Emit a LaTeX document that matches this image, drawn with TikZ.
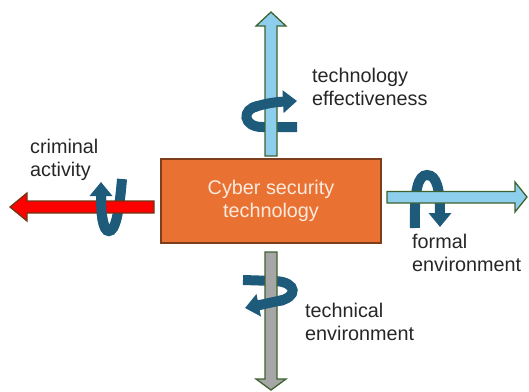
\documentclass[tikz,border=0pt]{standalone}
\usepackage{fontspec}
\setmainfont{Liberation Sans}
\usetikzlibrary{arrows.meta}
\definecolor{boxorange}{RGB}{233,113,50}
\definecolor{boxedge}{RGB}{125,62,30}
\definecolor{boxtext}{RGB}{252,234,222}
\definecolor{shaftblue}{RGB}{140,206,236}
\definecolor{shaftgray}{RGB}{166,166,166}
\definecolor{shaftedge}{RGB}{62,98,48}
\definecolor{redge}{RGB}{110,55,25}
\definecolor{curl}{RGB}{30,90,122}
\definecolor{lbltext}{RGB}{38,38,38}

\begin{document}
\begin{tikzpicture}[x=1pt,y=-1pt,
  lbl/.style = {anchor=base west, align=left, inner sep=0pt, text=lbltext, font=\fontsize{19.8}{23}\selectfont},
  shaft/.style = {draw=shaftedge, line width=1.3pt, line join=miter},
  twist/.style = {draw=curl, line width=10pt},
  twisthead/.style = {twist, -{Triangle[length=14pt,width=22pt]}},
]
\useasboundingbox (0,0) rectangle (529,391);
% curls, back parts
\draw[twist] (297,127) -- (262,127) .. controls (243,127) and (241,109) .. (258,106);
\draw[twist] (122,179) .. controls (119,215) and (115,231) .. (109,231) .. controls (103,231) and (101,215) .. (101,195);
\draw[twisthead] (415,228) .. controls (414,190) and (418,175) .. (427,175) .. controls (437,175) and (440,190) .. (440,227);
\draw[twist] (243,280) -- (275,281) .. controls (298,282) and (298,298) .. (278,301);
% block arrows
\draw[shaft, fill=shaftblue] (265,156) -- (265,26) -- (256,26) -- (271,12) -- (286,26) -- (277,26) -- (277,156) -- cycle;
\draw[shaft, fill=shaftgray] (265,252) -- (265,379) -- (256,379) -- (271,390) -- (286,379) -- (277,379) -- (277,252) -- cycle;
\draw[shaft, draw=redge, fill=red] (154,201) -- (27,201) -- (27,193) -- (10,207) -- (27,221) -- (27,213) -- (154,213) -- cycle;
\draw[shaft, fill=shaftblue] (387,191.5) -- (515,191.5) -- (515,182) -- (527,197) -- (515,212) -- (515,203) -- (387,203) -- cycle;
% curls, front parts
\draw[twisthead] (252,108) .. controls (262,104) and (275,102) .. (297,101);
\draw[twisthead] (109,231) .. controls (103,231) and (101,215) .. (101,182);
\draw[twisthead] (284,300) .. controls (272,302) and (265,304) .. (245,308);
% box and labels
\node (cst) at (271,201) [draw=boxedge, fill=boxorange, line width=1.3pt, minimum width=220pt, minimum height=84pt,
  align=center, text=boxtext, font=\fontsize{19.8}{23}\selectfont] {\raisebox{-3pt}{Cyber security}\\\raisebox{-3pt}{technology}};
\node (teff) at (312,105) [lbl] {technology\\effectiveness};
\node (tenv) at (305,340) [lbl] {technical\\environment};
\node (fenv) at (412,271) [lbl] {formal\\environment};
\node (crim) at (30,176) [lbl] {criminal\\activity};
\end{tikzpicture}
\end{document}
